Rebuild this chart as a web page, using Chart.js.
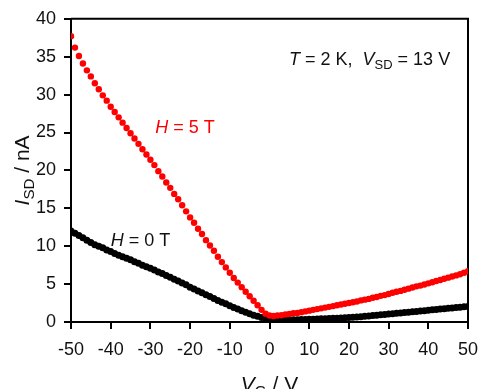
<!DOCTYPE html>
<html>
<head>
<meta charset="utf-8">
<script src="https://cdn.jsdelivr.net/npm/chart.js@4.4.1/dist/chart.umd.min.js"></script>
<style>
  html, body { margin: 0; padding: 0; background: #fff; }
  #wrap { width: 480px; height: 389px; }
</style>
</head>
<body>
<div id="wrap"><canvas id="c"></canvas></div>
<script>
// gate voltage, 1 V steps
const vg = []
for (let v = -50; v <= 50; v++) vg.push(v)

// I_SD at H = 5 T (nA)
const i5T = [
  37.7, 36.2, 35.1, 34.1, 33.2, 32.4, 31.5, 30.7, 29.9, 29.2, 28.4,
  27.7, 27.0, 26.3, 25.6, 24.9, 24.2, 23.5, 22.8, 22.1, 21.4,
  20.7, 19.9, 19.2, 18.4, 17.7, 16.9, 16.2, 15.4, 14.6, 13.8,
  13.1, 12.3, 11.6, 10.8, 10.1, 9.4, 8.6, 7.9, 7.2, 6.5,
  5.8, 5.2, 4.6, 4.0, 3.4, 2.8, 2.2, 1.6, 1.1, 0.85,
  0.8, 0.85, 0.9, 1.0, 1.05, 1.15, 1.2, 1.3, 1.4, 1.5,
  1.6, 1.7, 1.8, 1.9, 2.0, 2.1, 2.2, 2.3, 2.4, 2.5,
  2.6, 2.7, 2.85, 2.95, 3.05, 3.2, 3.3, 3.45, 3.55, 3.7,
  3.85, 4.0, 4.1, 4.25, 4.4, 4.55, 4.7, 4.8, 4.95, 5.1,
  5.25, 5.4, 5.55, 5.7, 5.85, 6.0, 6.15, 6.3, 6.5, 6.7
]

// I_SD at H = 0 T (nA)
const i0T = [
  12.0, 11.7, 11.4, 11.1, 10.8, 10.5, 10.2, 10.0, 9.8, 9.5, 9.3,
  9.05, 8.8, 8.6, 8.4, 8.2, 7.95, 7.75, 7.5, 7.3, 7.1,
  6.85, 6.6, 6.4, 6.15, 5.9, 5.65, 5.4, 5.15, 4.9, 4.6,
  4.35, 4.1, 3.85, 3.6, 3.35, 3.1, 2.85, 2.6, 2.4, 2.15,
  1.9, 1.7, 1.5, 1.3, 1.1, 0.9, 0.75, 0.6, 0.5, 0.4,
  0.35, 0.3, 0.3, 0.28, 0.28, 0.3, 0.3, 0.32, 0.33, 0.35,
  0.37, 0.4, 0.42, 0.44, 0.46, 0.48, 0.5, 0.52, 0.55, 0.58,
  0.62, 0.66, 0.7, 0.75, 0.8, 0.85, 0.9, 0.95, 1.0, 1.05,
  1.1, 1.15, 1.2, 1.25, 1.3, 1.35, 1.4, 1.45, 1.5, 1.55,
  1.6, 1.65, 1.7, 1.75, 1.8, 1.85, 1.9, 1.95, 2.0, 2.05
]

const FONT = 'Arial, "Liberation Sans", sans-serif'

// draws text made of parts: [text, style] with style '' | 'i' | 's'
function drawRich(ctx, parts, x, y, size, align, color) {
  const subSize = size * 0.72
  const fontFor = s => s === 'i' ? `italic ${size}px ${FONT}` : s === 's' ? `${subSize}px ${FONT}` : `${size}px ${FONT}`
  let w = 0
  parts.forEach(([t, s]) => { ctx.font = fontFor(s); w += ctx.measureText(t).width })
  let cx = align === 'right' ? x - w : align === 'center' ? x - w / 2 : x
  ctx.fillStyle = color
  ctx.textBaseline = 'alphabetic'
  ctx.textAlign = 'left'
  parts.forEach(([t, s]) => {
    ctx.font = fontFor(s)
    ctx.fillText(t, cx, s === 's' ? y + size * 0.22 : y)
    cx += ctx.measureText(t).width
  })
}

const labelsPlugin = {
  id: 'labels',
  beforeDatasetsDraw(chart) {
    const { ctx, chartArea: a } = chart
    ctx.save()
    ctx.strokeStyle = '#000'
    ctx.lineWidth = 2
    ctx.beginPath()
    ctx.moveTo(a.left, a.top)
    ctx.lineTo(a.right, a.top)
    ctx.lineTo(a.right, a.bottom)
    ctx.stroke()
    ctx.restore()
  },
  afterDraw(chart) {
    const { ctx, chartArea: a } = chart
    const x = chart.scales.x, y = chart.scales.y
    ctx.save()
    drawRich(ctx, [['T', 'i'], [' = 2 K,  ', ''], ['V', 'i'], ['SD', 's'], [' = 13 V', '']],
      x.getPixelForValue(45.5), y.getPixelForValue(33.9), 18, 'right', '#111')
    drawRich(ctx, [['H', 'i'], [' = 5 T', '']],
      x.getPixelForValue(-28.8), y.getPixelForValue(25.0), 18, 'left', '#ff0000')
    drawRich(ctx, [['H', 'i'], [' = 0 T', '']],
      x.getPixelForValue(-40), y.getPixelForValue(10.0), 18, 'left', '#111')
    // x title
    drawRich(ctx, [['V', 'i'], ['G', 's'], [' / V', '']], (a.left + a.right) / 2, 391, 21, 'center', '#111')
    // y title
    ctx.translate(29, (a.top + a.bottom) / 2)
    ctx.rotate(-Math.PI / 2)
    drawRich(ctx, [['I', 'i'], ['SD', 's'], [' / nA', '']], 0, 0, 21, 'center', '#111')
    ctx.restore()
  }
}

new Chart(document.getElementById('c'), {
  type: 'scatter',
  data: {
    datasets: [
      {
        label: 'H = 5 T',
        data: vg.map((v, i) => ({ x: v, y: i5T[i] })),
        backgroundColor: '#ff0000',
        borderWidth: 0,
        pointRadius: 3.2,
        showLine: false
      },
      {
        label: 'H = 0 T',
        data: vg.map((v, i) => ({ x: v, y: i0T[i] })),
        backgroundColor: '#000',
        borderWidth: 0,
        pointRadius: 3.5,
        showLine: false
      }
    ]
  },
  options: {
    responsive: true,
    maintainAspectRatio: false,
    animation: false,
    layout: { padding: { left: 0, top: 17, right: 12, bottom: 0 } },
    plugins: { legend: { display: false }, tooltip: { enabled: false } },
    scales: {
      x: {
        min: -50, max: 50,
        afterFit: s => { s.height = 67; s.paddingLeft = 0; s.paddingRight = 0 },
        ticks: { stepSize: 10, color: '#111', font: { size: 18, family: FONT }, padding: 10, maxRotation: 0 },
        grid: { drawOnChartArea: false, drawTicks: true, tickLength: 7, color: '#000', lineWidth: 2 },
        border: { display: true, color: '#000', width: 2 }
      },
      y: {
        min: 0, max: 40,
        afterFit: s => { s.width = 71 },
        ticks: { stepSize: 5, color: '#111', font: { size: 18, family: FONT }, padding: 8 },
        grid: { drawOnChartArea: false, drawTicks: true, tickLength: 7, color: '#000', lineWidth: 2 },
        border: { display: true, color: '#000', width: 2 }
      }
    }
  },
  plugins: [labelsPlugin]
})
</script>
</body>
</html>
